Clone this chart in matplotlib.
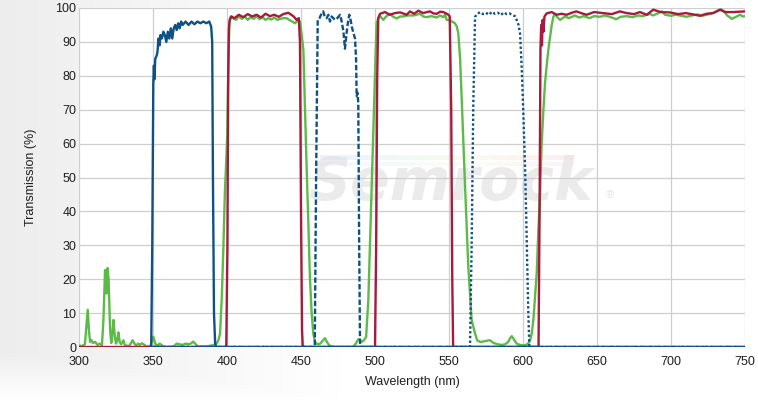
import numpy as np
import matplotlib
matplotlib.use("Agg")
import matplotlib.pyplot as plt
from matplotlib.colors import LinearSegmentedColormap

# ---------------- data ----------------
x_ticks = [300, 350, 400, 450, 500, 550, 600, 650, 700, 750]
y_ticks = [0, 10, 20, 30, 40, 50, 60, 70, 80, 90, 100]

# solid blue: UV exciter band
blue_solid_wl = [348, 348.8, 349.5, 350.2, 350.6, 351, 351.5, 352.5, 353, 353.7, 354.5, 355, 356, 357,
                 358, 359, 360, 361, 362, 363, 364, 365, 366, 367, 368, 369, 370, 372, 374, 376, 378,
                 380, 382, 384, 386, 388, 389.3, 390, 390.5, 391.2, 392, 392.6, 750]
blue_solid_t = [0, 0, 30, 78, 83, 79, 85, 86, 87, 91, 89, 92, 91, 93,
                92, 90, 93, 91, 94, 91, 94, 95, 93.5, 95.5, 94, 96, 95, 96, 95, 96, 95.2,
                96, 95.5, 96, 95.5, 96, 94.5, 90, 50, 10, 1, 0, 0]

# dashed blue: blue exciter band
blue_dash_wl = [350, 459.3, 460.2, 461.3, 462.5, 463.5, 465, 466, 467.3, 468.5, 469.6, 470.7, 471.8,
                473, 474.5, 476.4, 477.5, 478.7, 479.7, 480.9, 481.8, 482.6, 483.5, 484.3, 485.5,
                486.5, 487.2, 487.6, 488.2, 488.7, 489.3, 489.9, 750]
blue_dash_t = [0, 0, 50, 96.5, 97, 98, 99, 97.5, 97, 98, 96, 97.5, 97,
               96.5, 97, 98, 96, 93, 88, 93, 96, 98, 96.5, 94.5, 92.5,
               91, 85, 74, 75, 72, 30, 0, 0]

# dotted blue: yellow exciter band
blue_dot_wl = [350, 564.2, 565.3, 566.4, 567.6, 569, 571, 573, 575, 577, 579, 581, 583, 585, 587,
               589, 591, 593, 594.6, 595.7, 597, 598, 599.1, 600.3, 601.4, 602.2, 602.9, 603.6,
               604.3, 750]
blue_dot_t = [0, 0, 30, 71, 97.4, 98.2, 98.8, 98.2, 98.6, 98, 98.9, 98.3, 98.6, 97.9, 98.7,
              98.2, 98.4, 97.8, 97.6, 96.5, 95, 92.5, 82.6, 68, 53, 38, 23.6, 10,
              0, 0]

# red: multiband dichroic
red_wl = [300, 399.5, 400.3, 400.8, 401.3, 401.8, 403, 405, 408, 411, 414, 417, 420, 423, 426, 429,
          432, 435, 438, 441.4, 444.8, 447, 448.5, 449.3, 450, 450.7, 451.2,
          500, 500.8, 501.5, 502.2, 503.4, 506.8, 510, 513.5, 517, 521.4, 523.6, 526.5, 529.3,
          532.6, 535, 537.2, 539.5, 541.7, 544, 546.2, 548, 549.6, 550.5, 551.5, 552.2, 552.8,
          610.5, 611.2, 611.8, 612.3, 612.8, 613.3, 613.8, 614.5, 616, 619.4, 622.7, 626, 629.5,
          633, 636, 640, 643, 648, 654, 660, 665.5, 670, 675, 679, 683.6, 688, 693, 699, 705,
          710, 715, 719.6, 724, 728.4, 733, 737, 742, 746, 750]
red_t = [0, 0, 30, 80, 94, 96.5, 97.5, 97, 98, 97.3, 98.2, 97.5, 98, 97.2, 98.3, 97.6,
         98, 97.4, 98.2, 98.6, 97.6, 96.5, 97, 90, 40, 5, 0,
         0, 30, 80, 97, 98.3, 98.8, 98, 98.5, 98.7, 98, 99, 98.3, 99.2,
         98.5, 98.8, 99, 98.4, 98.3, 98.9, 98.8, 98.4, 98, 97.5, 70, 20, 0,
         0, 40, 88, 95, 89, 96.5, 93, 97.5, 98.4, 98.8, 98, 98.3, 98,
         98.6, 99, 98.4, 98, 98.8, 98.5, 98.2, 99, 98.5, 98.2, 98.8, 98, 99.5, 98.8, 98.7, 98.2,
         98.5, 98.1, 97.7, 98.3, 98.5, 99.5, 98.8, 98.8, 98.9, 99]

# green: multiband emitter
green_wl = [300, 302, 304, 305, 305.9, 306.7, 307.5, 308.5, 309.5, 311, 312.5, 314, 315.5, 316.5,
            317.6, 318.3, 318.7, 319.3, 320, 321, 321.8, 322.5, 323.3, 324.2, 325, 325.8, 326.6,
            327.5, 328.5, 330, 331, 332.5, 334, 336.2, 337.5, 338.5, 340, 341, 342.5, 344, 345.5,
            347, 348.5, 349.5, 350.2, 351, 352, 353.5, 354.5, 356, 357, 360, 364, 365, 366, 368,
            370, 372, 374, 375.5, 377.2, 378.5, 380, 383, 386, 389, 391, 393, 394.2, 395.3, 396.5,
            397.5, 398.6, 399.5, 400.2, 401, 401.6, 402.5, 404, 406, 408, 410, 412, 414, 416, 418,
            420, 422, 424, 426, 428, 430, 432, 434, 436, 438, 440.3, 442, 444, 446, 448.2, 449.3,
            450.5, 451.6, 452.7, 453.8, 455, 456, 457.2, 458.3, 459.5, 461, 463, 465, 466.2, 467.5,
            469, 471.8, 485.3, 487, 488.7, 489.8, 491, 492.5, 494, 495.5, 496.6, 497.8, 499.5,
            500.3, 501.1, 502.2, 503.4, 505.6, 507.5, 510, 512, 514.6, 517, 519, 522, 525.8, 528,
            530.4, 532.6, 535, 538, 541.7, 543.9, 546, 547.3, 548.4, 550, 552, 554, 555.3, 556.3,
            557.5, 558.6, 560.8, 563, 565.3, 567.6, 569, 571, 573, 575, 577.7, 580, 583, 585.6,
            588, 590, 591.3, 592.4, 593.6, 595.7, 598, 601.4, 603.5, 604.8, 605.9, 607, 608,
            609.3, 610.3, 611.5, 612.6, 613.8, 614.9, 616, 617.1, 618.5, 619.4, 620.5, 621.6,
            622.7, 623.8, 625, 626, 628.4, 631, 635, 638, 641, 645, 648, 652, 655, 658, 661, 663,
            666, 670, 674, 678, 681, 683.6, 686, 688, 691, 693.8, 696, 700, 703, 706, 710.6, 714,
            718, 721, 724, 727, 730, 732, 734, 736, 738, 741, 743.5, 746.6, 748.6, 750]
green_t = [0.4, 0.3, 0.8, 6, 11, 5, 1.5, 2, 1.2, 1.5, 0.6, 1, 0.5, 8,
           22.7, 16, 15.8, 23.3, 20, 5, 1.2, 4, 8, 3, 1, 2, 4.3,
           1.5, 0.8, 2, 0.5, 0.4, 0.3, 2, 1, 0.4, 1, 0.6, 1.1, 0.7, 0.2,
           0.1, 0.5, 2.5, 3, 1.8, 0.6, 0.5, 1, 0.5, 0.1, 0, 0.1, 0.6, 1, 0.8,
           0.6, 1, 0.8, 1, 1.6, 1, 0.3, 0.1, 0.2, 0.4, 0.6, 1, 2, 4, 15,
           28.6, 46, 55, 63, 85, 95.5, 97.5, 97, 96.5, 97.5, 96.8, 97.5, 96.5, 97.3, 96.8,
           97.6, 96.7, 97.3, 96.5, 97, 96.6, 97.2, 96.5, 96.8, 97, 97, 96.5, 96, 95.5, 96.5, 96,
           92, 87.6, 70, 53, 36, 20.7, 10, 4, 1.5, 0.8, 1, 2, 2.6, 1.5,
           0.5, 0, 0, 1, 2.3, 2, 1.5, 2, 3, 14, 30, 47, 73,
           85, 95.5, 97, 97.6, 96.5, 97.5, 98.3, 97.5, 96.9, 97.5, 97.5, 97.8, 97.8, 98,
           98.3, 97.5, 97.3, 97.6, 97.2, 97.8, 97.3, 98, 96.5, 96.5, 96, 95.5, 94.5, 92.5,
           85, 73, 48, 24, 8, 4, 2, 1.5, 1.6, 1.8, 2, 1.2, 0.8, 0.6,
           0.8, 1.5, 2.6, 3.2, 2.4, 1, 0.6, 0.5, 1, 2, 4, 8, 14,
           22, 33.6, 45, 60, 70, 78, 83, 87.6, 92, 95, 97.4, 98.3,
           97.5, 97, 96.5, 96.8, 97.5, 97, 97.8, 97.2, 97.6, 97, 97.6, 97.4, 97.8, 97.5, 97, 96.7,
           97.4, 97.6, 97.3, 97.8, 97.6, 98, 98.2, 97.8, 98.4, 99, 98, 97.7, 98, 97.8, 97.4, 97.8,
           98.1, 97.7, 98, 98.3, 98.8, 99.2, 99.6, 98.8, 97.8, 96.8, 97.3, 98, 97.5, 97.6]

# ---------------- styling ----------------
BLUE = "#0f5184"
RED = "#a51b3b"
GREEN = "#5cbb48"
GRID = "#cfcfcf"
TEXT = "#1e1e1e"

plt.rcParams["font.family"] = ["Liberation Sans", "DejaVu Sans"]

fig = plt.figure(figsize=(7.58, 4.00), dpi=100)

# background gradient for the figure
bg = fig.add_axes([0, 0, 1, 1], zorder=-10)
gx = np.linspace(0, 1, 400)
gy = np.linspace(0, 1, 200)
GX, GY = np.meshgrid(gx, gy)
shade = 0.93 + 0.07 * np.clip(GX / 0.45, 0, 1)
shade = np.maximum(shade, 0.93 + 0.07 * np.clip((0.12 - GY) / 0.12, 0, 1))
img = np.dstack([shade, shade, shade])
bg.imshow(img, extent=[0, 1, 0, 1], aspect="auto", origin="lower")
bg.set_axis_off()

ax = fig.add_axes([79 / 758, 1 - 347 / 400, (745 - 79) / 758, (347 - 8) / 400])
ax.set_facecolor("white")
ax.set_xlim(300, 750)
ax.set_ylim(0, 100)
ax.set_xticks(x_ticks)
ax.set_yticks(y_ticks)
ax.set_xticklabels([str(v) for v in x_ticks], fontsize=9, color=TEXT)
ax.set_yticklabels([str(v) for v in y_ticks], fontsize=9, color=TEXT)
ax.tick_params(axis="x", length=0, pad=6.5)
ax.tick_params(axis="y", length=0, pad=1.8)
ax.grid(True, color=GRID, lw=0.9, zorder=0)
for s in ax.spines.values():
    s.set_visible(False)
ax.set_xlabel("Wavelength (nm)", fontsize=9, color=TEXT, labelpad=6)
ax.set_ylabel("Transmission (%)", fontsize=9, color=TEXT, labelpad=13)

# watermark
ax.text(455, 48.3, "Semrock", fontsize=42, fontweight="bold", style="oblique",
        family="DejaVu Sans", color="#ebebeb", ha="left", va="center", zorder=1)
ax.text(659, 44.8, "\u00ae", fontsize=8, color="#e4e4e4", ha="center", va="center", zorder=1)
rainbow = LinearSegmentedColormap.from_list(
    "rb", ["#dcdcf6", "#dceef8", "#e2f6e2", "#f8f6dc", "#f9e6dc", "#f8dce0"])
strip = np.linspace(0, 1, 256).reshape(1, -1)
ax.imshow(strip, cmap=rainbow, extent=[463, 634, 55.3, 56.5], aspect="auto",
          alpha=0.45, zorder=1, interpolation="bilinear")
ax.imshow(strip, cmap=rainbow, extent=[463, 634, 53.4, 54.3], aspect="auto",
          alpha=0.3, zorder=1, interpolation="bilinear")
ax.set_xlim(300, 750)
ax.set_ylim(0, 100)

lw = 1.7
ax.plot(green_wl, green_t, color=GREEN, lw=lw, zorder=3, solid_joinstyle="round")
ax.plot(red_wl, red_t, color=RED, lw=lw, zorder=4, solid_joinstyle="round")
ax.plot(blue_dot_wl, blue_dot_t, color=BLUE, lw=lw, ls=(0, (1.0, 1.0)), zorder=5)
ax.plot(blue_dash_wl, blue_dash_t, color=BLUE, lw=lw, ls=(0, (2.3, 1.0)), zorder=5)
ax.plot(blue_solid_wl, blue_solid_t, color=BLUE, lw=lw, zorder=6, solid_joinstyle="round")

fig.savefig("out.png", dpi=100)
